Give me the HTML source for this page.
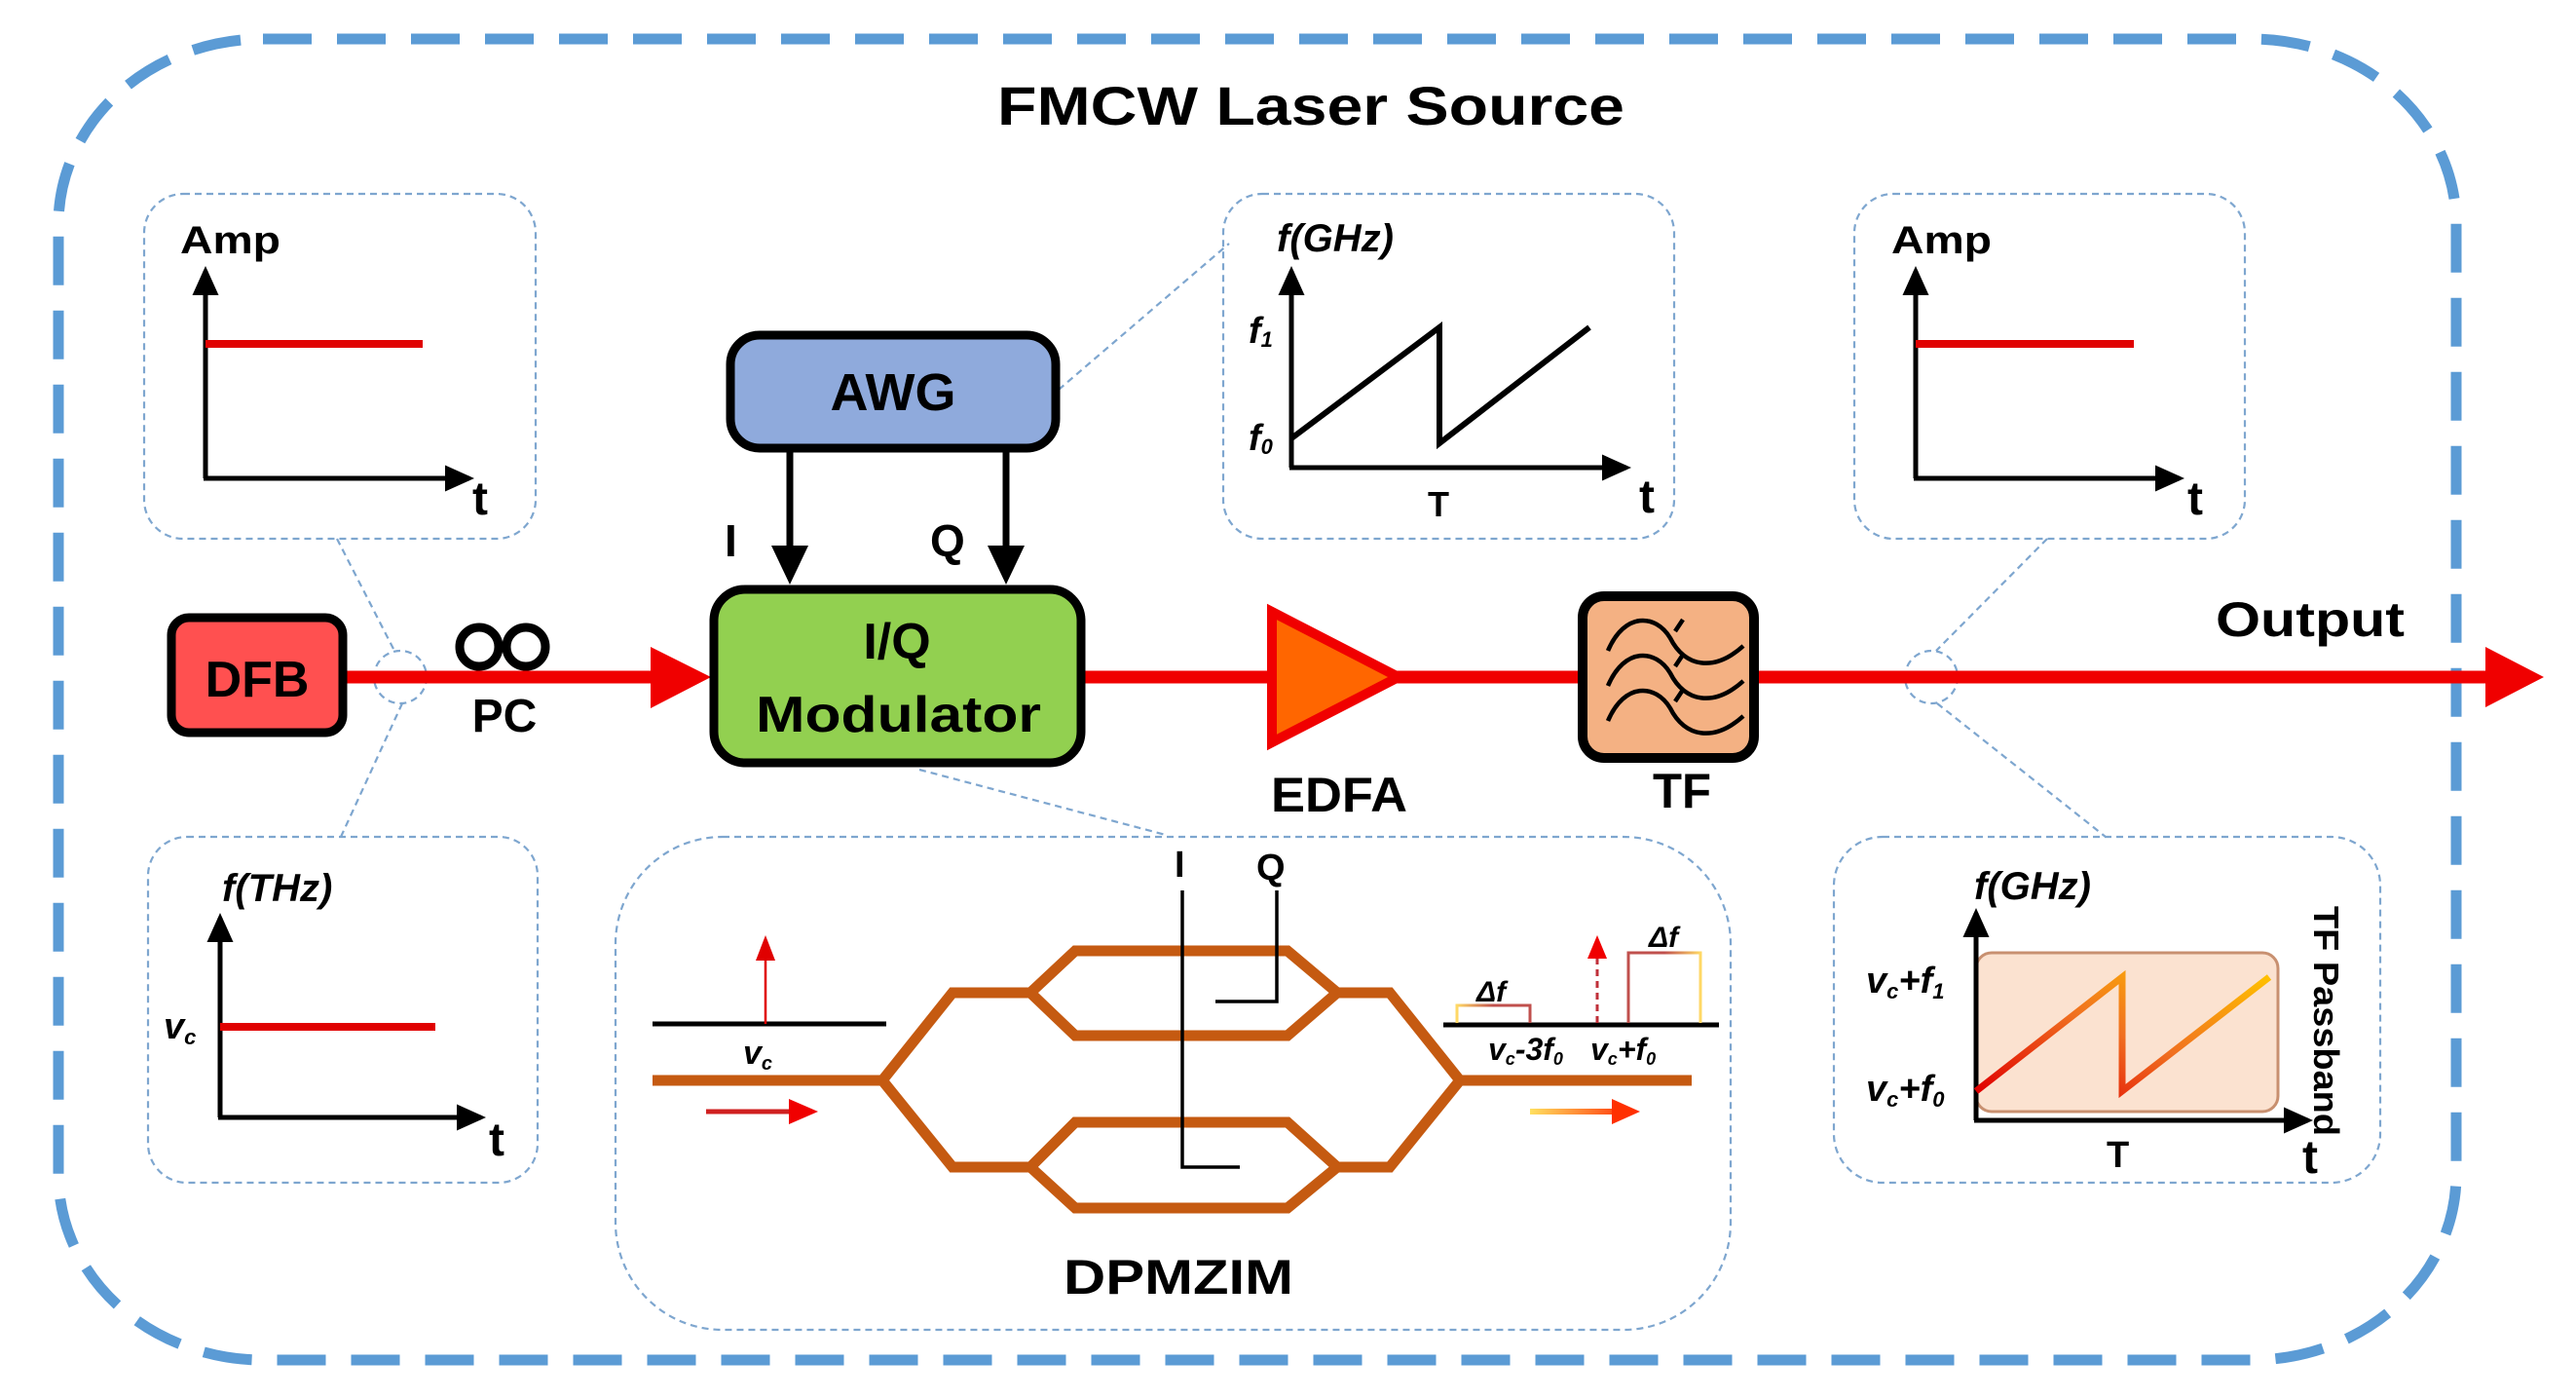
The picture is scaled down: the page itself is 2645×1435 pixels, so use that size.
<!DOCTYPE html>
<html><head><meta charset="utf-8"><style>
html,body{margin:0;padding:0;background:#fff;}
svg{display:block;}
text{font-family:"Liberation Sans",sans-serif;font-weight:bold;fill:#000;}
.it{font-style:italic;}
</style></head><body>
<svg width="2645" height="1435" viewBox="0 0 2645 1435" xmlns="http://www.w3.org/2000/svg">
<defs>
<marker id="ah" markerWidth="6" markerHeight="6" refX="5" refY="3" orient="auto" markerUnits="strokeWidth"><path d="M0,0.3 L6,3 L0,5.7z" fill="#000"/></marker>
<linearGradient id="saw" x1="0" y1="1" x2="1" y2="0"><stop offset="0" stop-color="#e00000"/><stop offset="0.5" stop-color="#f07020"/><stop offset="1" stop-color="#ffc000"/></linearGradient>
<linearGradient id="garr" gradientUnits="userSpaceOnUse" x1="1571" y1="0" x2="1684" y2="0"><stop offset="0" stop-color="#ffe060"/><stop offset="1" stop-color="#ff2000"/></linearGradient>
<linearGradient id="box1" gradientUnits="userSpaceOnUse" x1="1496" y1="0" x2="1571" y2="0"><stop offset="0" stop-color="#ffd966"/><stop offset="0.5" stop-color="#c0504d"/><stop offset="1" stop-color="#c0504d"/></linearGradient>
<linearGradient id="box2" gradientUnits="userSpaceOnUse" x1="1672" y1="0" x2="1746" y2="0"><stop offset="0" stop-color="#c0504d"/><stop offset="0.5" stop-color="#c0504d"/><stop offset="1" stop-color="#ffd966"/></linearGradient>
</defs>

<rect x="60" y="40" width="2462" height="1356" rx="210" ry="190" fill="none" stroke="#5b9bd5" stroke-width="11" stroke-dasharray="50,26"/>
<text x="1024" y="128" font-size="56" textLength="644" lengthAdjust="spacingAndGlyphs">FMCW Laser Source</text>

<g fill="none" stroke="#7ea6cf" stroke-width="2.2" stroke-dasharray="7,5">
<rect x="148" y="199" width="402" height="354" rx="40"/>
<rect x="1256" y="199" width="463" height="354" rx="40"/>
<rect x="1904" y="199" width="401" height="354" rx="40"/>
<rect x="152" y="859" width="400" height="355" rx="40"/>
<rect x="632" y="859" width="1145" height="506" rx="110"/>
<rect x="1883" y="859" width="561" height="355" rx="50"/>
<circle cx="411" cy="695" r="27"/>
<circle cx="1983" cy="695" r="27"/>
<path d="M346,553 L405,668 M413,722 L350,859"/>
<path d="M2102,553 L1988,668 M1989,722 L2162,859"/>
<path d="M944,790 L1197,857"/>
<path d="M1087,400 L1262,250"/>
</g>

<text x="185" y="260" font-size="40" textLength="103" lengthAdjust="spacingAndGlyphs">Amp</text>
<line x1="211" y1="491" x2="211" y2="278" stroke="#000" stroke-width="5" marker-end="url(#ah)"/>
<line x1="209" y1="491" x2="482" y2="491" stroke="#000" stroke-width="5" marker-end="url(#ah)"/>
<line x1="211" y1="353" x2="434" y2="353" stroke="#e00000" stroke-width="8"/>
<text x="485" y="528" font-size="48">t</text>

<text x="1942" y="260" font-size="40" textLength="103" lengthAdjust="spacingAndGlyphs">Amp</text>
<line x1="1967" y1="491" x2="1967" y2="278" stroke="#000" stroke-width="5" marker-end="url(#ah)"/>
<line x1="1965" y1="491" x2="2238" y2="491" stroke="#000" stroke-width="5" marker-end="url(#ah)"/>
<line x1="1967" y1="353" x2="2191" y2="353" stroke="#e00000" stroke-width="8"/>
<text x="2246" y="528" font-size="48">t</text>

<text x="1311" y="258" font-size="40" class="it">f(GHz)</text>
<line x1="1326" y1="480" x2="1326" y2="278" stroke="#000" stroke-width="5" marker-end="url(#ah)"/>
<line x1="1324" y1="480" x2="1670" y2="480" stroke="#000" stroke-width="5" marker-end="url(#ah)"/>
<polyline points="1326,450 1478,336 1478,455 1632,336" fill="none" stroke="#000" stroke-width="6"/>
<text x="1282" y="352" font-size="38" class="it">f<tspan font-size="22" dy="4">1</tspan></text>
<text x="1282" y="462" font-size="38" class="it">f<tspan font-size="22" dy="4">0</tspan></text>
<text x="1466" y="530" font-size="36">T</text>
<text x="1683" y="526" font-size="48">t</text>

<text x="228" y="925" font-size="40" class="it">f(THz)</text>
<line x1="226" y1="1147" x2="226" y2="942" stroke="#000" stroke-width="5" marker-end="url(#ah)"/>
<line x1="224" y1="1147" x2="494" y2="1147" stroke="#000" stroke-width="5" marker-end="url(#ah)"/>
<line x1="226" y1="1054" x2="447" y2="1054" stroke="#e00000" stroke-width="8"/>
<text x="168" y="1066" font-size="38" class="it">v<tspan font-size="22" dy="6">c</tspan></text>
<text x="502" y="1186" font-size="48">t</text>

<rect x="2029" y="978" width="310" height="163" rx="16" fill="#fbe2d0" stroke="#c89070" stroke-width="3"/>
<text x="2027" y="923" font-size="40" class="it">f(GHz)</text>
<line x1="2029" y1="1150" x2="2029" y2="937" stroke="#000" stroke-width="5" marker-end="url(#ah)"/>
<line x1="2027" y1="1150" x2="2370" y2="1150" stroke="#000" stroke-width="5" marker-end="url(#ah)"/>
<polyline points="2029,1120 2179,1003 2179,1120 2330,1003" fill="none" stroke="url(#saw)" stroke-width="7"/>
<text x="1916" y="1019" font-size="38" class="it">v<tspan font-size="22" dy="6">c</tspan><tspan dy="-6">+f</tspan><tspan font-size="22" dy="6">1</tspan></text>
<text x="1916" y="1130" font-size="38" class="it">v<tspan font-size="22" dy="6">c</tspan><tspan dy="-6">+f</tspan><tspan font-size="22" dy="6">0</tspan></text>
<text x="2163" y="1198" font-size="38">T</text>
<text x="2364" y="1204" font-size="48">t</text>
<text transform="translate(2376,930) rotate(90)" font-size="36" textLength="236" lengthAdjust="spacingAndGlyphs">TF Passband</text>

<line x1="354" y1="695" x2="690" y2="695" stroke="#f00000" stroke-width="13"/>
<path d="M668,664 L730,695 L668,727z" fill="#f00000"/>
<line x1="1113" y1="695" x2="1630" y2="695" stroke="#f00000" stroke-width="13"/>
<line x1="1805" y1="695" x2="2560" y2="695" stroke="#f00000" stroke-width="13"/>
<path d="M2552,664 L2612,695 L2552,726z" fill="#f00000"/>

<rect x="176" y="634" width="176" height="118" rx="18" fill="#ff5050" stroke="#000" stroke-width="9"/>
<text x="264" y="715" font-size="52" text-anchor="middle">DFB</text>

<circle cx="492" cy="664" r="20" fill="none" stroke="#000" stroke-width="9"/>
<circle cx="540" cy="664" r="20" fill="none" stroke="#000" stroke-width="9"/>
<text x="518" y="751" font-size="48" text-anchor="middle">PC</text>

<rect x="750" y="344" width="334" height="116" rx="30" fill="#8faadc" stroke="#000" stroke-width="9"/>
<text x="917" y="421" font-size="54" text-anchor="middle">AWG</text>
<line x1="811" y1="464" x2="811" y2="565" stroke="#000" stroke-width="7"/>
<path d="M792,560 L811,600 L830,560z" fill="#000"/>
<line x1="1033" y1="464" x2="1033" y2="565" stroke="#000" stroke-width="7"/>
<path d="M1014,560 L1033,600 L1052,560z" fill="#000"/>
<text x="744" y="571" font-size="46">I</text>
<text x="955" y="571" font-size="46">Q</text>

<rect x="733" y="605" width="377" height="178" rx="32" fill="#92d050" stroke="#000" stroke-width="9"/>
<text x="921" y="676" font-size="52" text-anchor="middle">I/Q</text>
<text x="776" y="751" font-size="52" textLength="293" lengthAdjust="spacingAndGlyphs">Modulator</text>

<path d="M1306,628 L1436,695 L1306,762z" fill="#ff6600" stroke="#f00000" stroke-width="10" stroke-linejoin="miter"/>
<text x="1305" y="833" font-size="50" textLength="140" lengthAdjust="spacingAndGlyphs">EDFA</text>

<rect x="1625" y="612" width="176" height="166" rx="22" fill="#f4b183" stroke="#000" stroke-width="10"/>
<g fill="none" stroke="#000" stroke-width="4.5">
<path d="M1651,668 C1668,628 1700,630 1715,655 C1730,685 1760,690 1790,663"/>
<path d="M1651,704 C1668,664 1700,666 1715,691 C1730,721 1760,726 1790,699"/>
<path d="M1651,740 C1668,700 1700,702 1715,727 C1730,757 1760,762 1790,735"/>
<path d="M1720,648 L1728,636 M1720,684 L1728,672 M1720,720 L1728,708"/>
</g>
<text x="1697" y="829" font-size="50" textLength="60" lengthAdjust="spacingAndGlyphs">TF</text>

<text x="2275" y="653" font-size="50" textLength="194" lengthAdjust="spacingAndGlyphs">Output</text>

<g fill="none" stroke="#c55a11" stroke-width="11" stroke-linejoin="miter">
<path d="M670,1109 L906,1109 L978,1019 L1058,1019 L1104,976 L1322,976 L1373,1019 L1427,1019 L1499,1109 L1737,1109"/>
<path d="M1058,1019 L1104,1063 L1322,1063 L1373,1019"/>
<path d="M906,1109 L978,1198 L1058,1198 L1104,1152 L1322,1152 L1373,1198 L1427,1198 L1499,1109"/>
<path d="M1058,1198 L1104,1240 L1322,1240 L1373,1198"/>
</g>
<g fill="none" stroke="#000" stroke-width="3.5">
<path d="M1214,914 L1214,1198 L1273,1198"/>
<path d="M1311,914 L1311,1028 L1248,1028"/>
</g>
<text x="1206" y="900" font-size="38">I</text>
<text x="1290" y="903" font-size="38">Q</text>
<text x="1092" y="1328" font-size="50" textLength="236" lengthAdjust="spacingAndGlyphs">DPMZIM</text>

<line x1="670" y1="1051" x2="910" y2="1051" stroke="#000" stroke-width="5"/>
<line x1="786" y1="1051" x2="786" y2="980" stroke="#e00000" stroke-width="2.5"/>
<path d="M776,986 L786,960 L796,986z" fill="#e00000"/>
<text x="763" y="1092" font-size="34" class="it">v<tspan font-size="20" dy="6">c</tspan></text>
<line x1="725" y1="1141" x2="815" y2="1141" stroke="#d02020" stroke-width="5"/>
<path d="M810,1128 L840,1141 L810,1154z" fill="#f00000"/>

<line x1="1482" y1="1052" x2="1765" y2="1052" stroke="#000" stroke-width="5"/>
<path d="M1496,1050 L1496,1032 L1571,1032 L1571,1050" fill="none" stroke="url(#box1)" stroke-width="3"/>
<path d="M1672,1050 L1672,978 L1746,978 L1746,1050" fill="none" stroke="url(#box2)" stroke-width="3"/>
<line x1="1640" y1="1050" x2="1640" y2="980" stroke="#c0303a" stroke-width="3" stroke-dasharray="7,5"/>
<path d="M1630,984 L1640,960 L1650,984z" fill="#f00000"/>
<text x="1516" y="1028" font-size="30" class="it" font-weight="normal">Δf</text>
<text x="1693" y="972" font-size="30" class="it" font-weight="normal">Δf</text>
<text x="1528" y="1088" font-size="32" class="it">v<tspan font-size="18" dy="5">c</tspan><tspan dy="-5">-3f</tspan><tspan font-size="18" dy="5">0</tspan></text>
<text x="1633" y="1088" font-size="32" class="it">v<tspan font-size="18" dy="5">c</tspan><tspan dy="-5">+f</tspan><tspan font-size="18" dy="5">0</tspan></text>
<rect x="1571" y="1138" width="90" height="6" fill="url(#garr)"/>
<path d="M1655,1128 L1684,1141 L1655,1154z" fill="#ff3000"/>
</svg>
</body></html>
